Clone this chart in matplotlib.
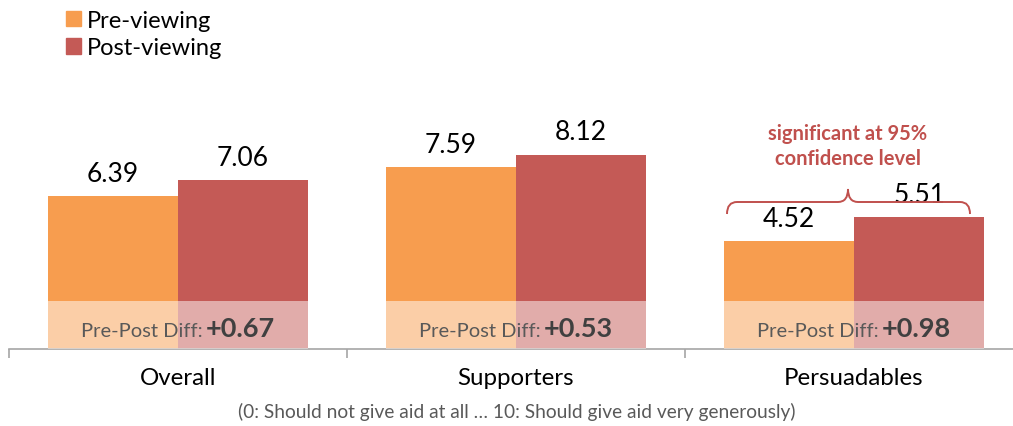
import matplotlib.pyplot as plt
from matplotlib.path import Path
from matplotlib.patches import PathPatch, Patch
import numpy as np

plt.rcParams['font.family'] = ['Lato', 'DejaVu Sans']

# data
groups = ['Overall', 'Supporters', 'Persuadables']
pre_viewing = [6.39, 7.59, 4.52]
post_viewing = [7.06, 8.12, 5.51]
pre_post_diff = [0.67, 0.53, 0.98]
series_names = ['Pre-viewing', 'Post-viewing']
scale_note = '(0: Should not give aid at all … 10: Should give aid very generously)'
sig_note = 'significant at 95%\nconfidence level'

pre_color = '#F79D4F'
post_color = '#C45A56'
sig_color = '#C0504D'
text_gray = '#595959'

W, H = 1013, 427
fig = plt.figure(figsize=(W / 100, H / 100), dpi=100)
# axis baseline sits at 350 px from the top, 23.93 px per unit
px_per_unit = 23.93
ax = fig.add_axes([9 / W, (H - 350) / H, 1014 / W, 350 / H])
ax.set_xlim(-0.5, 2.5)
ax.set_ylim(0, 350 / px_per_unit)

x = np.arange(len(groups))
bw = 0.385
ax.bar(x - bw / 2, pre_viewing, bw, color=pre_color, label=series_names[0])
ax.bar(x + bw / 2, post_viewing, bw, color=post_color, label=series_names[1])

# pale band at the bottom of each pair
ax.bar(x, 2, 2 * bw, color='white', alpha=0.5, zorder=3)

for xi, v in zip(x - bw / 2, pre_viewing):
    ax.annotate(f'{v:.2f}', (xi, v), xytext=(0, 11), textcoords='offset points',
                ha='center', va='baseline', fontsize=19, color='black')
for xi, v in zip(x + bw / 2, post_viewing):
    ax.annotate(f'{v:.2f}', (xi, v), xytext=(0, 11), textcoords='offset points',
                ha='center', va='baseline', fontsize=19, color='black')

for xi, d in zip(x, pre_post_diff):
    ax.text(xi + 0.074, 0.54, 'Pre-Post Diff:', ha='right', va='baseline',
            fontsize=14.5, color=text_gray, zorder=4)
    ax.text(xi + 0.083, 0.54, f'+{d:.2f}', ha='left', va='baseline',
            fontsize=19.5, fontweight='bold', color='#404040', zorder=4)

# category labels below the axis
for xi, g in zip(x, groups):
    ax.text(xi, -35 / px_per_unit, g, ha='center', va='baseline',
            fontsize=17.3, color='black', clip_on=False)
fig.text(517 / W, 1 - 418 / H, scale_note, ha='center', va='baseline',
         fontsize=13.8, color=text_gray)

# axis styling
for s in ['top', 'right', 'left']:
    ax.spines[s].set_visible(False)
ax.spines['bottom'].set_color('#A6A6A6')
ax.spines['bottom'].set_linewidth(1.2)
ax.set_yticks([])
ax.set_xticks([-0.5, 0.5, 1.5, 2.5])
ax.set_xticklabels([])
ax.tick_params(axis='x', length=6.5, width=1.2, color='#A6A6A6', direction='out')

# curly brace over the Persuadables pair
def to_data(px, py):
    return ((px - 178) / 338, (350 - py) / px_per_unit)

brace_px = [(727, 215), (727, 203), (737, 203), (838, 203), (848, 203), (848, 190),
            (848, 203), (858, 203), (960, 203), (970, 203), (970, 215)]
verts = [to_data(*p) for p in brace_px]
codes = [Path.MOVETO, Path.CURVE3, Path.CURVE3, Path.LINETO, Path.CURVE3, Path.CURVE3,
         Path.CURVE3, Path.CURVE3, Path.LINETO, Path.CURVE3, Path.CURVE3]
ax.add_patch(PathPatch(Path(verts, codes), facecolor='none', edgecolor=sig_color,
                       lw=1.4, zorder=5))
ax.text(*to_data(848, 165), sig_note, ha='center', va='baseline', fontsize=14.5,
        fontweight='bold', color=sig_color, linespacing=1.3)

handles = [Patch(color=pre_color), Patch(color=post_color)]
fig.legend(handles, series_names, loc='upper left', bbox_to_anchor=(66 / W, 1 - 11 / H),
           frameon=False, fontsize=17, handlelength=0.62, handleheight=0.62,
           handletextpad=0.28, labelspacing=0.27, borderpad=0, borderaxespad=0)

fig.savefig('out.png', dpi=100)
